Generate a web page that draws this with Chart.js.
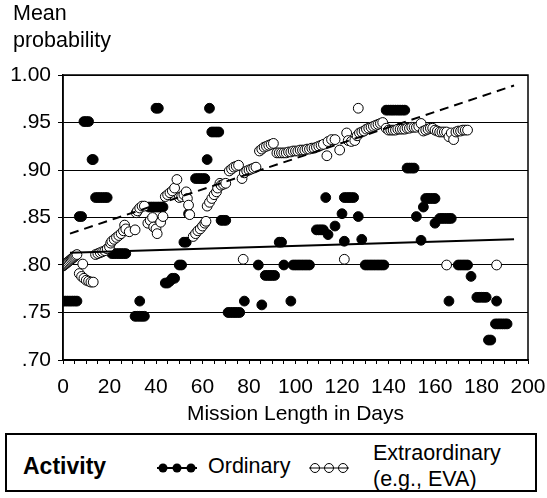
<!DOCTYPE html>
<html>
<head>
<meta charset="utf-8">
<script src="https://cdn.jsdelivr.net/npm/chart.js@4.4.0/dist/chart.umd.min.js"></script>
<style>
    body { margin: 0; background: #fff; font-family: "Liberation Sans", Arial, sans-serif; }
    #wrap { position: relative; width: 547px; height: 498px; }
    #yTitle { position: absolute; left: 13px; top: 0px; font-size: 21.5px; line-height: 27px; color: #000; }
    #legend { position: absolute; left: 5px; top: 433px; width: 528px; height: 55px; border: 2px solid #000; font-size: 21.5px; color: #000; }
    #legend .lbl { position: absolute; }
</style>
</head>
<body>
<div id="wrap">
    <canvas id="chart" width="547" height="430"></canvas>
    <div id="yTitle">Mean<br>probability</div>
    <div id="legend">
        <span class="lbl" style="left:16px; top:18px; font-weight:bold; font-size:23px;">Activity</span>
        <svg class="lbl" style="left:148px; top:26px;" width="44" height="14">
            <line x1="2" y1="7" x2="42" y2="7" stroke="#000" stroke-width="2"/>
            <circle cx="8" cy="7" r="4.5" fill="#000"/>
            <circle cx="22" cy="7" r="4.5" fill="#000"/>
            <circle cx="36" cy="7" r="4.5" fill="#000"/>
        </svg>
        <span class="lbl" style="left:201px; top:19px;">Ordinary</span>
        <svg class="lbl" style="left:300px; top:26px;" width="44" height="14">
            <circle cx="8" cy="7" r="4.5" fill="#fff" stroke="#000" stroke-width="1"/>
            <circle cx="22" cy="7" r="4.5" fill="#fff" stroke="#000" stroke-width="1"/>
            <circle cx="36" cy="7" r="4.5" fill="#fff" stroke="#000" stroke-width="1"/>
            <line x1="2" y1="7" x2="42" y2="7" stroke="#000" stroke-width="1"/>
        </svg>
        <span class="lbl" style="left:366px; top:5px; line-height:26px;">Extraordinary<br>(e.g., EVA)</span>
    </div>
</div>
<script>
// ---- data (day, mean probability) ----
const ordinaryPoints = [
    [0,.762],[1,.762],[2,.762],[3,.762],[4,.762],[5,.762],[6,.762],
    [7,.851],[8,.851],[9,.951],[10,.951],[11,.951],[12.5,.911],[13,.911],
    [14,.871],[15,.871],[16,.871],[17,.871],[18,.871],[19,.871],
    [21,.812],[22,.812],[23,.812],[24,.812],[25,.812],[26,.812],[27,.812],
    [31,.746],[32,.746],[33,.746],[34,.746],[35,.746],[33,.762],
    [37,.861],[38,.861],[39,.861],[40,.861],[41,.861],[42,.861],[43,.861],
    [40,.965],[41,.965],
    [44,.781],[45,.781],[46,.783],[47,.786],[48,.786],
    [50,.800],[51,.800],[52,.824],[53,.824],[54,.854],
    [57,.891],[58,.891],[59,.891],[60,.891],[61,.891],[62,.911],[63,.965],
    [64,.940],[65,.940],[66,.940],[67,.940],[68,.847],[69,.847],[70,.847],
    [71,.750],[72,.750],[73,.750],[74,.750],[75,.750],[76,.750],[78,.762],
    [84,.800],[85.5,.758],[87,.789],[88,.789],[89,.789],[90,.789],[91,.789],
    [93,.824],[94,.824],[95,.800],[98,.762],
    [99,.800],[100,.800],[101,.800],[102,.800],[103,.800],[104,.800],[105,.800],[106,.800],
    [109,.837],[110,.837],[111,.837],[112,.837],[113,.871],[114,.832],[117,.841],
    [120,.854],[121,.825],[121,.871],[122,.871],[123,.871],[124,.871],[125,.871],
    [127,.851],[128.5,.827],
    [130,.800],[131,.800],[132,.800],[133,.800],[134,.800],[135,.800],[136,.800],[137,.800],[138,.800],
    [139,.963],[140,.963],[141,.963],[142,.963],[143,.963],[144,.963],[145,.963],[146,.963],[147,.963],
    [148,.902],[149,.902],[150,.902],[151,.902],[152,.851],[154,.826],[155,.861],
    [156,.870],[157,.870],[158,.870],[159,.870],[160,.870],[160,.844],
    [162,.849],[163,.849],[164,.849],[165,.849],[166,.849],[167,.849],[166,.762],
    [170,.800],[171,.800],[172,.800],[173,.800],[174,.800],[175.5,.788],
    [178,.766],[179,.766],[180,.766],[181,.766],[182,.766],[186.5,.762],
    [186,.738],[187,.738],[188,.738],[189,.738],[190,.738],[191,.738],
    [183,.721],[184,.721]
];

const extraPoints = [
    [0,.799],[0.5,.800],[1,.801],[1.5,.802],[2,.803],[2.5,.804],[3,.805],[3.5,.806],
    [4,.807],[4.5,.808],[5,.809],[5.5,.810],[6,.811],
    [7,.791],[8,.788],[8.5,.801],[9,.786],[10,.784],[11,.783],[12,.782],[13,.782],
    [14,.811],[15,.812],[16,.813],[17,.814],[18,.815],[19,.817],[20,.819],
    [20.5,.823],[21,.825],[22,.827],[23,.829],[24,.831],[25,.833],[26,.836],[26.5,.842],[27,.838],[28.5,.835],
    [31,.837],[31.5,.855],[32,.857],[33,.860],[34,.862],[35,.862],
    [36.5,.844],[37.5,.847],[38.5,.850],[39,.840],[40,.838],[40.5,.833],[42,.845],[43,.851],
    [44,.872],[45,.874],[46,.876],[47,.878],[48,.881],[49,.890],
    [50,.871],[51,.872],[52,.874],[53,.877],[53.5,.870],[54,.863],[54.5,.853],
    [56,.830],[57,.833],[58,.836],[59,.838],[60,.841],[61,.844],[61.5,.846],
    [62,.862],[63,.866],[64,.870],[65,.874],[66,.877],[66.5,.881],[67.5,.886],
    [68,.884],[69,.885],[70,.886],
    [71.5,.899],[72.5,.901],[73.5,.903],[74.5,.904],[75.5,.905],[77,.891],[77.5,.806],
    [78,.897],[79,.899],[80,.900],[81,.901],[82,.902],[83,.903],
    [84.5,.920],[85.5,.922],[86.5,.924],[87.5,.925],[88.5,.926],[89.5,.927],[90.5,.928],
    [92,.918],[93,.918],[94,.918],[95,.918],[96,.918],[97,.919],[98,.919],[99,.920],
    [100,.920],[101,.920],[102,.921],[103,.921],[104,.921],[105,.922],[106,.922],
    [107,.923],[108,.923],[109,.924],[110,.925],[111,.926],[112,.927],[113.5,.915],
    [114,.930],[115.5,.932],[117,.932],[119,.921],[121,.806],[122,.939],[122.7,.931],[124,.930],[125.5,.931],
    [127,.965],
    [126.5,.936],[127.5,.939],[128.5,.940],[129.5,.941],[130.5,.943],[131.5,.944],[132.5,.945],
    [133.5,.946],[134.5,.947],[135.5,.948],[136.5,.949],[137.5,.950],
    [139,.944],[140,.942],[141,.942],[142,.942],[143,.942],[144,.943],[145,.943],[146,.943],
    [147,.943],[148,.944],[149,.944],[150,.945],[151,.945],[152,.945],[153,.946],
    [154,.949],[155,.941],[156,.942],[157,.943],[158,.944],[159,.944],[160,.942],[161,.941],
    [162,.940],[163,.940],[164,.940],[165,.940],[166,.935],[167,.939],[168,.932],[165,.800],
    [169,.940],[170,.941],[171,.941],[172,.942],[173,.942],[174,.942],
    [186.5,.800]
];

// linear trend lines (endpoints)
const ordinaryTrend = [[3,.813],[194,.827]];
const extraTrend = [[3,.833],[194,.989]];

// axis ticks
const xTickLabels = [0, 20, 40, 60, 80, 100, 120, 140, 160, 180, 200];
const yTickLabels = ['.70', '.75', '.80', '.85', '.90', '.95', '1.00'];

const toXY = arr => arr.map(p => ({ x: p[0], y: p[1] }));
const FONT = { family: '"Liberation Sans", Arial, sans-serif', size: 21 };

// frame round the plot area
const framePlugin = {
    id: 'frame',
    afterDraw(chart) {
        const a = chart.chartArea, ctx = chart.ctx;
        ctx.save();
        ctx.strokeStyle = '#000';
        ctx.lineWidth = 1.5;
        ctx.strokeRect(a.left, a.top, a.right - a.left, a.bottom - a.top);
        ctx.restore();
    }
};

new Chart(document.getElementById('chart').getContext('2d'), {
    type: 'scatter',
    data: {
        datasets: [
            {
                label: 'Ordinary trend', type: 'line', data: toXY(ordinaryTrend),
                borderColor: '#000', borderWidth: 2, pointRadius: 0, fill: false, order: 0
            },
            {
                label: 'Extraordinary trend', type: 'line', data: toXY(extraTrend),
                borderColor: '#000', borderWidth: 2, borderDash: [9, 6], pointRadius: 0, fill: false, order: 0
            },
            {
                label: 'Extraordinary (e.g., EVA)', data: toXY(extraPoints),
                backgroundColor: '#fff', borderColor: '#000', borderWidth: 1, pointRadius: 4.9, order: 1
            },
            {
                label: 'Ordinary', data: toXY(ordinaryPoints),
                backgroundColor: '#000', borderColor: '#000', borderWidth: 1, pointRadius: 4.9, order: 2
            }
        ]
    },
    options: {
        responsive: false,
        animation: false,
        layout: { padding: { top: 75, right: 19, left: 0, bottom: 0 } },
        plugins: { legend: { display: false }, tooltip: { enabled: false } },
        scales: {
            x: {
                type: 'linear', min: 0, max: 200,
                afterFit: s => { s.height = 70; s.paddingLeft = 0; s.paddingRight = 0; },
                border: { color: '#000', width: 1.5 },
                grid: { drawOnChartArea: false, color: '#000', tickLength: 4 },
                ticks: {
                    stepSize: 5, autoSkip: false, maxRotation: 0, padding: 11,
                    color: '#000', font: FONT,
                    callback: v => xTickLabels.includes(v) ? String(v) : ''
                },
                title: { display: true, text: 'Mission Length in Days', color: '#000', font: FONT, padding: { top: 0, bottom: 3 } }
            },
            y: {
                min: 0.70, max: 1.00,
                afterFit: s => { s.width = 63; },
                border: { color: '#000', width: 1.5 },
                grid: { color: '#000', lineWidth: 1, tickLength: 5 },
                ticks: {
                    stepSize: 0.05, padding: 7, color: '#000', font: FONT,
                    callback: (v, i) => yTickLabels[Math.round((v - 0.70) / 0.05)]
                }
            }
        }
    },
    plugins: [framePlugin]
});
</script>
</body>
</html>
